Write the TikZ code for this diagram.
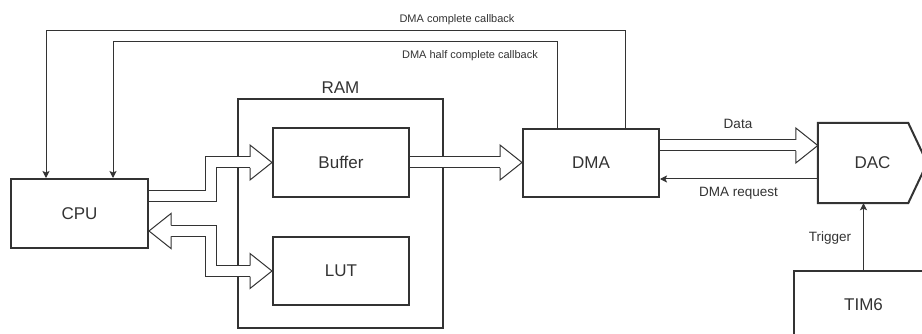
\documentclass[tikz,border=0pt]{standalone}
\usepackage{fontspec}
\setmainfont{Liberation Sans}
\usepackage{tikz}
\usetikzlibrary{arrows.meta}
\usetikzlibrary{positioning}
\usetikzlibrary{calc}
\definecolor{ink}{RGB}{51,51,51}
\tikzset{
	>={Stealth[length=7pt,width=7pt,inset=1.5pt]},
	block/.style={draw=ink, line width=2pt, text=ink, font=\fontsize{17}{20}\selectfont},
	bus/.style={draw=ink, line width=1pt, double=white, double distance=10pt},
	wire/.style={draw=ink, line width=1pt, ->},
	smalllabel/.style={text=ink, font=\fontsize{13.5}{16}\selectfont},
	cblabel/.style={text=ink, font=\fontsize{11}{13}\selectfont},
	pics/bushead/.style={code={
		\fill[white] (-22,-17.5) -- (0,0) -- (-22,17.5) -- cycle;
		\draw[ink, line width=1pt, line join=miter] (-22,-5.5) -- (-22,-17.5) -- (0,0) -- (-22,17.5) -- (-22,5.5);
	}},
}
\begin{document}
\begin{tikzpicture}[x=1pt, y=-1pt]
	\useasboundingbox (0,0) rectangle (922,334);
	\clip (0,0) rectangle (922,334);
	% blocks
	\node[block, minimum width=137, minimum height=69] (cpu) at (79.5,213.5) {CPU};
	\node[block, minimum width=205, minimum height=229] (ram) at (340.5,213.5) {};
	\node[text=ink, font=\fontsize{17}{20}\selectfont, above=1pt of ram] (ramlbl) {RAM};
	\node[block, minimum width=136, minimum height=69] (buf) at (341,162.5) {Buffer};
	\node[block, minimum width=136, minimum height=68] (lut) at (341,271) {LUT};
	\node[block, minimum width=136, minimum height=68] (dma) at (591,163) {DMA};
	\node[text=ink, font=\fontsize{17}{20}\selectfont, minimum width=109, minimum height=80] (dac) at (872.5,163) {DAC};
	\draw[ink, line width=2pt, line join=miter] (dac.north west) -- ($(dac.north east)+(-19,0)$) -- (dac.east)
		-- ($(dac.south east)+(-19,0)$) -- (dac.south west) -- cycle;
	\node[block, minimum width=139, minimum height=68] (tim) at (863.5,305) {TIM6};
	% buses
	\coordinate (busx) at ($(cpu.east)!.5!(buf.west)$);
	\draw[bus] ([yshift=17pt]cpu.east) -| (busx |- buf.west) -- ([xshift=-22pt]buf.west);
	\pic at (buf.west) {bushead};
	\draw[bus] ([xshift=22pt,yshift=-17.5pt]cpu.east) -| (busx |- lut.west) -- ([xshift=-22pt]lut.west);
	\pic at (lut.west) {bushead};
	\pic[rotate=180] at ([yshift=-17.5pt]cpu.east) {bushead};
	\draw[bus] (buf.east) -- ([xshift=-22pt,yshift=0.5pt]dma.west);
	\pic at ([yshift=0.5pt]dma.west) {bushead};
	\draw[bus] ([yshift=17.5pt]dma.east) -- ([xshift=-22pt,yshift=17.5pt]dac.west);
	\pic at ([yshift=17.5pt]dac.west) {bushead};
	% callbacks
	\draw[wire] ([xshift=34pt]dma.north) -- ++(0,-97) -| ([xshift=-33.5pt]cpu.north);
	\draw[wire] ([xshift=-34pt]dma.north) -- ++(0,-86) -| ([xshift=33.5pt]cpu.north);
	\node[cblabel] (cbfull) at (457,20) {DMA complete callback};
	\node[cblabel] (cbhalf) at (470,56) {DMA half complete callback};
	% signals
	\draw[wire] ([yshift=-16pt]dac.west) -- ([yshift=-16pt]dma.east);
	\draw[wire] (tim.north) -- (tim.north |- dac.south);
	\node[smalllabel] (datalbl) at (738,124) {Data};
	\node[smalllabel] (reqlbl) at (738.5,193) {DMA request};
	\node[smalllabel] (triglbl) at (830,238) {Trigger};
\end{tikzpicture}
\end{document}
